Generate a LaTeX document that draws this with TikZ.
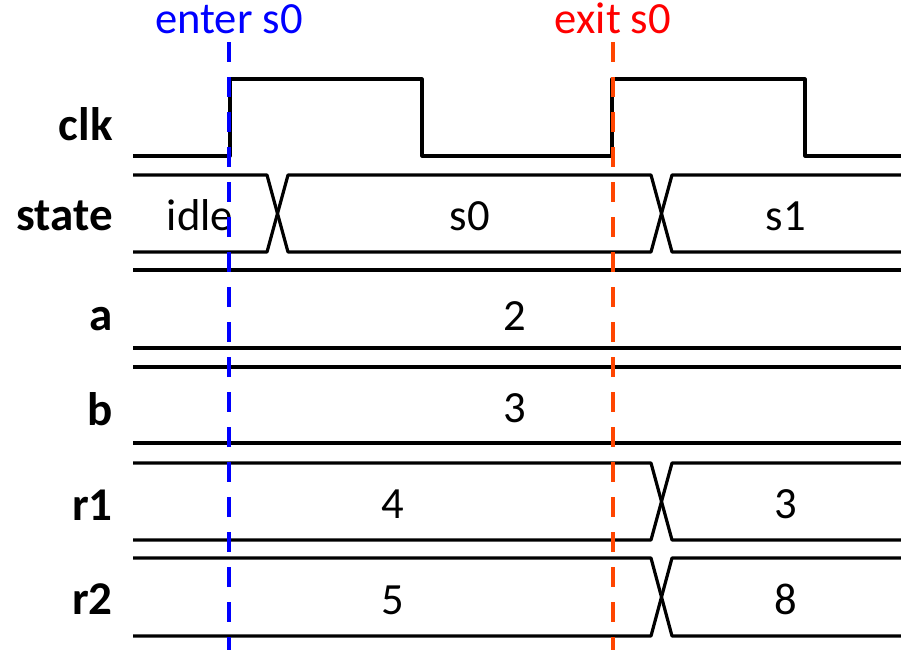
\documentclass[tikz,border=0pt]{standalone}
\usepackage{fontspec}
\setmainfont{Carlito}
\usetikzlibrary{positioning}
\definecolor{Center}{RGB}{0, 0, 255}
\definecolor{Cexit}{RGB}{255, 69, 0}
\definecolor{Cexittxt}{RGB}{255, 0, 0}
\tikzset{
    wave/.style={line width=1.6pt, black, line join=round},
    signame/.style={anchor=base east, inner sep=0pt,
        font=\fontsize{23.5}{28}\selectfont\bfseries},
    sigval/.style={anchor=base, inner sep=0pt,
        font=\fontsize{22.3}{27}\selectfont},
    evline/.style={line width=2pt, dash pattern=on 10pt off 7.5pt},
}

\begin{document}
\begin{tikzpicture}[x=0.5pt, y=-0.5pt]
    \useasboundingbox (0,0) rectangle (901,650);

    % ── signal names ─────────────────────────────────────
    \node [signame] (nclk)   at (113,140) {clk};
    \node [signame] (nstate) at (113,230) {state};
    \node [signame] (na)     at (113,330) {a};
    \node [signame] (nb)     at (113,425) {b};
    \node [signame] (nr1)    at (113,520) {r1};
    \node [signame] (nr2)    at (113,614) {r2};

    % ── clock ────────────────────────────────────────────
    \draw [wave] (133,156) -- (230,156) -- (230,79) -- (422,79) -- (422,156)
        -- (612,156) -- (612,79) -- (805,79) -- (805,156) -- (901,156);

    % ── buses ────────────────────────────────────────────
    \draw [wave] (133,175) -- (267,175) -- (288,252) -- (651,252) -- (672,175) -- (901,175);
    \draw [wave] (133,252) -- (267,252) -- (288,175) -- (651,175) -- (672,252) -- (901,252);
    \foreach \t/\b in {270/348, 367/443}
        \draw [wave] (133,\t) -- (901,\t) (133,\b) -- (901,\b);
    \foreach \t/\b in {463/540, 558/636} {
        \draw [wave] (133,\t) -- (651,\t) -- (672,\b) -- (901,\b);
        \draw [wave] (133,\b) -- (651,\b) -- (672,\t) -- (901,\t);
    }

    % ── values ───────────────────────────────────────────
    \node [sigval] (vidle) at (200,230) {idle};
    \node [sigval] (vs0)   at (470,230) {s0};
    \node [sigval] (vs1)   at (786,230) {s1};
    \node [sigval] (va)    at (515,330) {2};
    \node [sigval] (vb)    at (515,422) {3};
    \node [sigval] (vr1a)  at (393,518) {4};
    \node [sigval] (vr1b)  at (786,518) {3};
    \node [sigval] (vr2a)  at (393,614) {5};
    \node [sigval] (vr2b)  at (786,614) {8};

    % ── state boundaries ─────────────────────────────────
    \coordinate (entertop) at (229,42);
    \coordinate (enterbot) at (229,650);
    \coordinate (exittop)  at (613,42);
    \coordinate (exitbot)  at (613,650);
    \draw [evline, Center] (entertop) -- (enterbot);
    \draw [evline, Cexit]  (exittop) -- (exitbot);
    \node [sigval, anchor=south, text=Center, above=4pt of entertop] (lenter) {enter s0};
    \node [sigval, anchor=south, text=Cexittxt, above=4pt of exittop] (lexit) {exit s0};

\end{tikzpicture}
\end{document}
